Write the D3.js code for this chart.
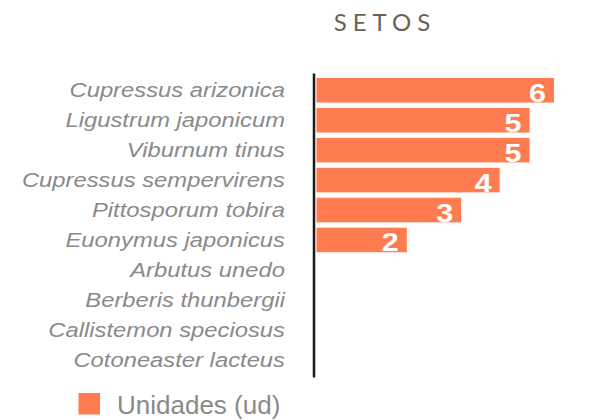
<!DOCTYPE html>
<html>
<head>
<meta charset="utf-8">
<script src="https://cdn.jsdelivr.net/npm/d3@7"></script>
<style>
  html, body { margin: 0; padding: 0; background: #ffffff; }
  svg { display: block; }
</style>
</head>
<body>
<svg id="chart" width="614" height="420"></svg>
<script>
const title = "SETOS";
const categories = [
  "Cupressus arizonica",
  "Ligustrum japonicum",
  "Viburnum tinus",
  "Cupressus sempervirens",
  "Pittosporum tobira",
  "Euonymus japonicus",
  "Arbutus unedo",
  "Berberis thunbergii",
  "Callistemon speciosus",
  "Cotoneaster lacteus"
];
const values = [6, 5, 5, 4, 3, 2, 0, 0, 0, 0];
const seriesName = "Unidades (ud)";

const barColor = "#ff7c50";
const labelColor = "#8a8a8a";
const stretch = 1.22;

const svg = d3.select("#chart");

const x = d3.scaleLog().domain([1, 6]).range([314, 554]);
const y = d3.scaleBand().domain(categories).range([73, 377])
  .paddingInner(0.18).paddingOuter(0.167);

const data = categories.map((c, i) => ({ c, v: values[i] }));
const barStart = x(1) + 2.5;

// bars
svg.append("g").selectAll("rect")
  .data(data.filter(d => d.v > 0))
  .join("rect")
  .attr("x", barStart)
  .attr("y", d => y(d.c))
  .attr("width", d => x(d.v) - barStart)
  .attr("height", y.bandwidth())
  .attr("fill", barColor);

// value labels
svg.append("g").selectAll("text")
  .data(data.filter(d => d.v > 0))
  .join("text")
  .attr("transform", d => `translate(${x(d.v) - 8},${y(d.c) + y.bandwidth() / 2 + 11.5}) scale(${stretch},1)`)
  .attr("text-anchor", "end")
  .attr("font-family", "'Liberation Sans', Arial, sans-serif")
  .attr("font-weight", "bold")
  .attr("font-size", 25)
  .attr("fill", "#ffffff")
  .text(d => d.v);

// axis
const axis = svg.append("g")
  .attr("transform", "translate(313.5,0)")
  .call(d3.axisLeft(y).tickSize(0).tickSizeOuter(0).tickPadding(0));
axis.select(".domain").attr("stroke", "#1a1a1a").attr("stroke-width", 2.5);
axis.selectAll(".tick text")
  .attr("x", null).attr("dy", null)
  .attr("transform", `translate(-28.5,7.2) scale(${stretch},1)`)
  .attr("text-anchor", "end")
  .attr("font-family", "'Liberation Sans', Arial, sans-serif")
  .attr("font-style", "italic")
  .attr("font-size", 19.5)
  .attr("fill", labelColor);

// title
svg.append("text")
  .attr("x", 385)
  .attr("y", 31)
  .attr("text-anchor", "middle")
  .attr("font-family", "Lato, 'Open Sans', sans-serif")
  .attr("font-size", 24)
  .attr("letter-spacing", 6)
  .attr("fill", "#6b5f55")
  .text(title);

// legend
const legend = svg.append("g");
legend.append("rect")
  .attr("x", 78.5).attr("y", 393)
  .attr("width", 21.5).attr("height", 21.5)
  .attr("fill", barColor);
legend.append("text")
  .attr("x", 117).attr("y", 413.5)
  .attr("font-family", "'Liberation Sans', Arial, sans-serif")
  .attr("font-size", 26)
  .attr("fill", labelColor)
  .text(seriesName);
</script>
</body>
</html>
